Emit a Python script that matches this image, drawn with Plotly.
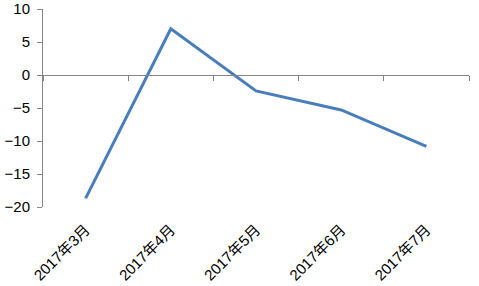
import plotly.graph_objects as go

categories = ["2017年3月", "2017年4月", "2017年5月", "2017年6月", "2017年7月"]
values = [-18.7, 7.0, -2.4, -5.3, -10.8]
y_ticks = [-20, -15, -10, -5, 0, 5, 10]

axis_color = "#868686"
line_color = "#4A7EBB"
font_family = "Liberation Sans, Noto Sans CJK SC, sans-serif"

fig = go.Figure()
fig.add_trace(go.Scatter(
    x=categories, y=values, mode="lines",
    line=dict(color=line_color, width=3),
    showlegend=False, hoverinfo="skip",
))
fig.add_trace(go.Scatter(
    x=categories, y=values, mode="lines", xaxis="x2",
    line=dict(color="rgba(0,0,0,0)", width=0),
    showlegend=False, hoverinfo="skip",
))

fig.update_layout(
    width=479, height=286,
    margin=dict(l=43, r=10, t=9, b=79),
    paper_bgcolor="white", plot_bgcolor="white",
    font=dict(family=font_family, size=15, color="black"),
    xaxis=dict(
        type="category", range=[-0.5, 4.5], automargin=False,
        showline=False, showgrid=False, zeroline=False,
        ticks="", tickangle=-45, tickfont=dict(size=15),
        ticklabelstandoff=10,
    ),
    xaxis2=dict(
        type="category", range=[-0.5, 4.5], overlaying="x", anchor="free",
        position=2/3, automargin=False,
        showline=True, linecolor=axis_color, linewidth=1,
        ticks="outside", ticklen=5, tickcolor=axis_color, tickwidth=1,
        tickson="boundaries", showticklabels=False, showgrid=False,
    ),
    yaxis=dict(
        range=[-20, 10], tickvals=y_ticks, automargin=False,
        showgrid=False, zeroline=False,
        showline=True, linecolor=axis_color, linewidth=1,
        ticks="outside", ticklen=5, tickcolor=axis_color,
        tickfont=dict(size=15), ticklabelstandoff=4,
    ),
)

fig.write_html("out.html")
